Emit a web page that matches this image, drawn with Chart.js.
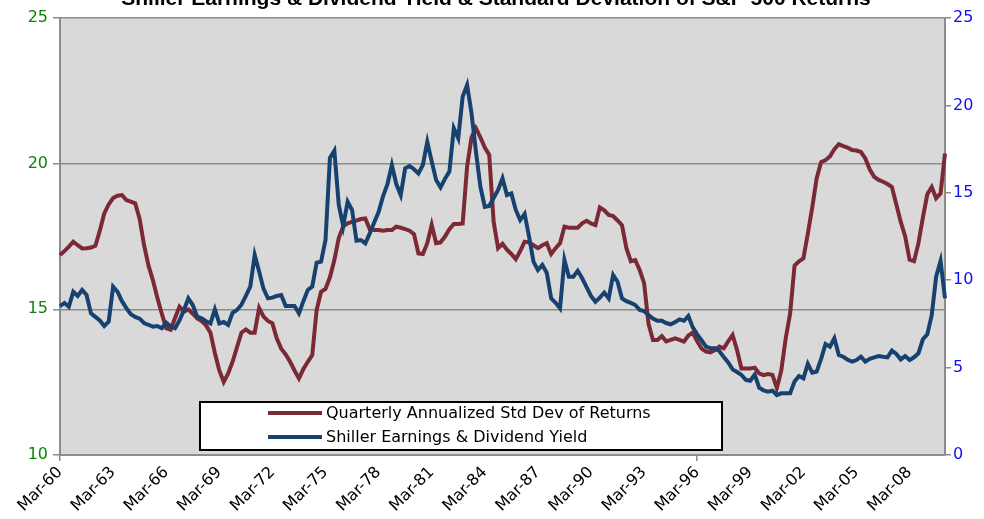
<!DOCTYPE html>
<html>
<head>
<meta charset="utf-8">
<script src="https://cdn.jsdelivr.net/npm/chart.js@4.4.1/dist/chart.umd.min.js"></script>
<style>
    html, body { margin: 0; padding: 0; background: #fff; }
    #wrap { position: relative; width: 984px; height: 519px; }
</style>
</head>
<body>
<div id="wrap"><canvas id="chart"></canvas></div>
<script>
// Quarterly categories, Mar-60 .. Mar-10
const months = ['Mar', 'Jun', 'Sep', 'Dec'];
const quarters = [];
for (let y = 1960; y <= 2010; y++) {
    for (const m of months) {
        if (y === 2010 && m !== 'Mar') break;
        quarters.push(m + '-' + String(y).slice(2));
    }
}

// Left axis: Quarterly annualized std dev of returns
const stdDev = [
    16.86, 17.0, 17.15, 17.32, 17.2, 17.09, 17.1, 17.12, 17.18, 17.7,
    18.29, 18.6, 18.82, 18.9, 18.92, 18.75, 18.7, 18.64, 18.1, 17.2,
    16.5, 16.0, 15.4, 14.85, 14.35, 14.3, 14.7, 15.09, 14.92, 15.0,
    14.85, 14.69, 14.6, 14.45, 14.2, 13.5, 12.9, 12.51, 12.8, 13.2,
    13.7, 14.2, 14.31, 14.2, 14.2, 15.05, 14.75, 14.6, 14.52, 14.0,
    13.65, 13.45, 13.2, 12.9, 12.63, 12.95, 13.2, 13.43, 14.98, 15.6,
    15.7, 16.1, 16.69, 17.45, 17.85, 17.95, 18.0, 18.05, 18.1, 18.12,
    17.75, 17.72, 17.72, 17.7, 17.72, 17.72, 17.84, 17.8, 17.75, 17.7,
    17.58, 16.92, 16.9, 17.27, 17.9, 17.27, 17.3, 17.5, 17.75, 17.93,
    17.93, 17.95, 19.9, 20.9, 21.21, 20.9, 20.55, 20.3, 18.0, 17.1,
    17.25, 17.05, 16.9, 16.72, 17.0, 17.32, 17.3, 17.2, 17.1, 17.2,
    17.27, 16.9, 17.1, 17.27, 17.84, 17.8, 17.8, 17.8, 17.95, 18.04,
    17.95, 17.89, 18.5, 18.4, 18.24, 18.2, 18.05, 17.89, 17.1, 16.65,
    16.69, 16.35, 15.9, 14.5, 13.95, 13.95, 14.08, 13.9, 13.95, 14.0,
    13.95, 13.89, 14.1, 14.2, 13.9, 13.65, 13.55, 13.52, 13.6, 13.72,
    13.66, 13.9, 14.12, 13.6, 12.97, 12.97, 12.97, 13.0, 12.8, 12.74,
    12.78, 12.75, 12.3, 12.9, 14.0, 14.86, 16.5, 16.65, 16.75, 17.6,
    18.5, 19.5, 20.05, 20.12, 20.25, 20.5, 20.67, 20.6, 20.55, 20.47,
    20.45, 20.4, 20.18, 19.8, 19.55, 19.44, 19.38, 19.3, 19.2, 18.6,
    18.0, 17.5, 16.7, 16.65, 17.27, 18.15, 18.95, 19.2, 18.81, 18.98,
    20.35
];

// Right axis: Shiller earnings & dividend yield
const shillerYield = [
    8.52, 8.7, 8.48, 9.34, 9.1, 9.44, 9.15, 8.1, 7.9, 7.7,
    7.38, 7.63, 9.63, 9.34, 8.8, 8.4, 8.05, 7.9, 7.8, 7.55,
    7.45, 7.34, 7.38, 7.25, 7.57, 7.35, 7.25, 7.7, 8.3, 8.96,
    8.58, 7.91, 7.82, 7.65, 7.53, 8.33, 7.53, 7.61, 7.44, 8.14,
    8.3, 8.6, 9.1, 9.63, 11.44, 10.5, 9.5, 8.96, 9.0, 9.1,
    9.15, 8.52, 8.52, 8.52, 8.1, 8.8, 9.44, 9.63, 11.0, 11.06,
    12.3, 17.0, 17.41, 14.3, 13.1, 14.49, 14.02, 12.26, 12.3, 12.11,
    12.68, 13.3, 13.9, 14.8, 15.5, 16.59, 15.5, 14.87, 16.4, 16.53,
    16.35, 16.11, 16.59, 17.92, 16.8, 15.73, 15.31, 15.8, 16.21, 18.69,
    18.12, 20.5, 21.17, 19.55, 17.35, 15.35, 14.2, 14.25, 14.7, 15.16,
    15.83, 14.87, 14.97, 14.02, 13.44, 13.79, 12.49, 11.06, 10.58, 10.87,
    10.43, 8.96, 8.71, 8.39, 11.16, 10.2, 10.2, 10.54, 10.11, 9.6,
    9.1, 8.77, 9.0, 9.29, 8.96, 10.3, 9.91, 8.96, 8.8, 8.7,
    8.58, 8.3, 8.24, 8.0, 7.8, 7.68, 7.68, 7.55, 7.48, 7.6,
    7.76, 7.68, 7.95, 7.3, 6.9, 6.55, 6.2, 6.1, 6.1, 5.95,
    5.6, 5.3, 4.9, 4.75, 4.58, 4.3, 4.25, 4.6, 3.85, 3.7,
    3.62, 3.68, 3.43, 3.53, 3.53, 3.53, 4.2, 4.52, 4.39, 5.21,
    4.71, 4.77, 5.5, 6.35, 6.2, 6.68, 5.72, 5.62, 5.45, 5.34,
    5.43, 5.62, 5.34, 5.5, 5.59, 5.66, 5.62, 5.59, 5.97, 5.78,
    5.47, 5.66, 5.43, 5.59, 5.82, 6.62, 6.9, 8.0, 10.2, 11.1,
    8.96
];

const leftTicks = [10, 15, 20, 25];
const rightTicks = [0, 5, 10, 15, 20, 25];

const chartTitle = 'Shiller Earnings & Dividend Yield & Standard Deviation of S&P 500 Returns';
const RED = '#7b2935';
const BLUE = '#17426f';
const GRID = '#8c8c8c';

// grey plot area
const plotBg = {
    id: 'plotBg',
    beforeDraw(chart) {
        const { ctx, chartArea: a } = chart;
        ctx.save();
        ctx.fillStyle = '#d9d9d9';
        ctx.fillRect(a.left, a.top, a.right - a.left, a.bottom - a.top);
        ctx.restore();
    }
};

// title sits mostly above the window, like the original
const topTitle = {
    id: 'topTitle',
    afterDraw(chart) {
        const ctx = chart.ctx;
        ctx.save();
        ctx.font = 'bold 21px "Liberation Sans", Arial, sans-serif';
        ctx.fillStyle = '#000';
        ctx.textAlign = 'center';
        ctx.textBaseline = 'alphabetic';
        ctx.fillText(chartTitle, 496, 5);
        ctx.restore();
    }
};

// boxed legend inside the plot
const boxLegend = {
    id: 'boxLegend',
    afterDraw(chart) {
        const { ctx, chartArea: a } = chart;
        const x = a.left + 140, y = a.bottom - 53, w = 522, h = 48;
        ctx.save();
        ctx.fillStyle = '#fff';
        ctx.fillRect(x, y, w, h);
        ctx.strokeStyle = '#000';
        ctx.lineWidth = 2;
        ctx.strokeRect(x, y, w, h);
        ctx.font = '16px "DejaVu Sans", sans-serif';
        ctx.textBaseline = 'middle';
        chart.data.datasets.forEach((ds, i) => {
            const ly = y + 11 + i * 24;
            ctx.strokeStyle = ds.borderColor;
            ctx.lineWidth = 4;
            ctx.beginPath();
            ctx.moveTo(x + 68, ly);
            ctx.lineTo(x + 122, ly);
            ctx.stroke();
            ctx.fillStyle = '#000';
            ctx.fillText(ds.label, x + 126, ly + 1);
        });
        ctx.restore();
    }
};

new Chart(document.getElementById('chart'), {
    type: 'line',
    data: {
        labels: quarters,
        datasets: [
            {
                label: 'Quarterly Annualized Std Dev of Returns',
                data: stdDev,
                yAxisID: 'y',
                borderColor: RED,
                borderWidth: 4,
                pointRadius: 0,
                tension: 0,
                order: 2
            },
            {
                label: 'Shiller Earnings & Dividend Yield',
                data: shillerYield,
                yAxisID: 'y2',
                borderColor: BLUE,
                borderWidth: 4,
                pointRadius: 0,
                tension: 0,
                order: 1
            }
        ]
    },
    options: {
        responsive: true,
        maintainAspectRatio: false,
        animation: false,
        layout: { padding: { top: 18, left: 0, right: 0, bottom: 0 } },
        plugins: {
            legend: { display: false },
            tooltip: { enabled: false }
        },
        scales: {
            x: {
                type: 'category',
                offset: false,
                afterFit(s) { s.height = 64; },
                grid: {
                    drawOnChartArea: false,
                    drawTicks: true,
                    tickLength: 6,
                    lineWidth: 1.5,
                    color: (c) => (c.index % 12 === 0 ? GRID : 'rgba(0,0,0,0)')
                },
                border: { display: true, color: GRID, width: 2 },
                ticks: {
                    autoSkip: false,
                    minRotation: 45,
                    maxRotation: 45,
                    padding: 2,
                    color: '#000',
                    font: { family: '"DejaVu Sans", sans-serif', size: 16 },
                    callback: function (val, i) {
                        return i % 12 === 0 ? this.getLabelForValue(val) : null;
                    }
                }
            },
            y: {
                position: 'left',
                min: 10,
                max: 25,
                afterFit(s) { s.width = 60; },
                afterBuildTicks(s) { s.ticks = leftTicks.map(v => ({ value: v })); },
                grid: { color: GRID, lineWidth: 1.5, tickLength: 7 },
                border: { display: true, color: GRID, width: 2 },
                ticks: {
                    color: '#0a850a',
                    padding: 5,
                    font: { family: '"DejaVu Sans", sans-serif', size: 16 }
                }
            },
            y2: {
                position: 'right',
                min: 0,
                max: 25,
                afterFit(s) { s.width = 39; },
                afterBuildTicks(s) { s.ticks = rightTicks.map(v => ({ value: v })); },
                grid: { drawOnChartArea: false, color: GRID, lineWidth: 1.5, tickLength: 6 },
                border: { display: true, color: GRID, width: 2 },
                ticks: {
                    color: '#1010f0',
                    padding: 2,
                    font: { family: '"DejaVu Sans", sans-serif', size: 16 }
                }
            }
        }
    },
    plugins: [plotBg, topTitle, boxLegend]
});
</script>
</body>
</html>
